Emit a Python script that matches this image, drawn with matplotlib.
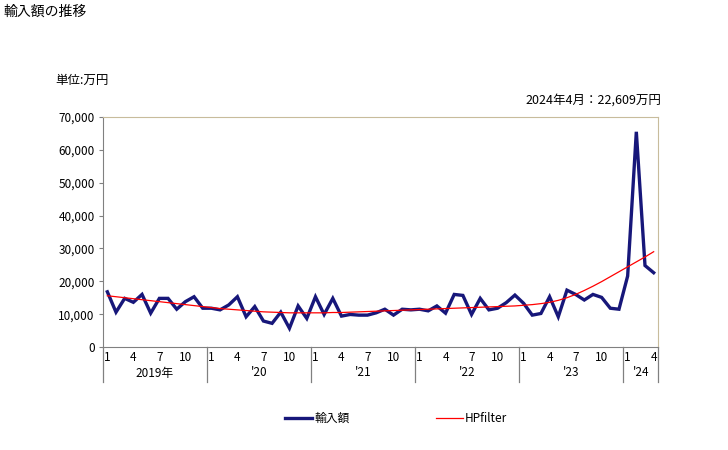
import matplotlib
matplotlib.use("Agg")
import matplotlib.pyplot as plt
from matplotlib.ticker import FuncFormatter

plt.rcParams['font.family'] = ['Noto Sans CJK JP', 'DejaVu Sans']

# monthly import values (万円), Jan 2019 .. Apr 2024
years = ["2019年", "'20", "'21", "'22", "'23", "'24"]
month_ticks = [1, 4, 7, 10]
imports = [
    16800, 10600, 14800, 13600, 16000, 10300, 14800, 14800, 11500, 13800, 15300, 11800,
    11800, 11300, 12800, 15300, 9200, 12300, 7900, 7200, 10600, 5700, 12500, 8700,
    15300, 9900, 14800, 9400, 9900, 9700, 9700, 10400, 11500, 9700, 11500, 11300,
    11500, 11000, 12500, 10300, 16000, 15700, 9900, 14800, 11300, 11800, 13500, 15800,
    13300, 9700, 10200, 15300, 9200, 17300, 16000, 14300, 16000, 15100, 11800, 11500,
    21600, 65500, 24800, 22609,
]
hp_filter = [
    15600, 15300, 15000, 14700, 14400, 14100, 13800, 13500, 13200, 12900, 12600, 12300,
    12000, 11700, 11500, 11300, 11100, 10900, 10700, 10600, 10500, 10400, 10400, 10400,
    10400, 10400, 10500, 10500, 10600, 10700, 10800, 10900, 11000, 11100, 11200, 11300,
    11400, 11500, 11600, 11700, 11800, 11900, 12000, 12100, 12200, 12300, 12400, 12500,
    12700, 12900, 13200, 13600, 14200, 15000, 16000, 17200, 18500, 19900, 21400, 22900,
    24400, 25900, 27400, 29000,
]

n = len(imports)
x = list(range(n))

fig = plt.figure(figsize=(7.28, 4.5), dpi=100)
ax = fig.add_axes([103 / 728, 1 - 347 / 450, 555 / 728, 230 / 450])

ax.plot(x, imports, color='#17177a', linewidth=2.4, label='輸入額', solid_joinstyle='miter')
ax.plot(x, hp_filter, color='#ff0000', linewidth=0.9, label='HPfilter')

ax.set_xlim(-0.5, n - 0.5)
ax.set_ylim(0, 70000)
ax.set_yticks(range(0, 70001, 10000))
ax.yaxis.set_major_formatter(FuncFormatter(lambda v, p: f"{int(v):,}"))
ax.tick_params(axis='y', direction='out', length=3, width=0.8, color='#808080',
               labelsize=8.5, pad=3)

# month labels
pos, labs = [], []
for i in range(n):
    m = i % 12 + 1
    if m in month_ticks:
        pos.append(i)
        labs.append(str(m))
ax.set_xticks(pos)
ax.set_xticklabels(labs)
ax.tick_params(axis='x', length=0, labelsize=8.5, pad=3)

for s in ['top', 'right']:
    ax.spines[s].set_color('#c8bc9c')
for s in ['left', 'bottom']:
    ax.spines[s].set_color('#808080')
ax.spines['left'].set_bounds(0, 70000)

# year separators and labels under the axis
trans = ax.get_xaxis_transform()
low = -35 / 230
ax.plot([-0.5, -0.5], [low, 0], transform=trans, color='#808080', lw=0.9, clip_on=False)
for k, yl in enumerate(years):
    start = k * 12 - 0.5
    end = min(start + 12, n - 0.5)
    ax.plot([end, end], [low, 0], transform=trans, color='#808080', lw=0.9, clip_on=False)
    ax.text((start + end) / 2, -26 / 230, yl, transform=trans, ha='center', va='center',
            fontsize=8.5)

fig.text(4 / 728, 1 - 12 / 450, '輸入額の推移', fontsize=10, va='center', ha='left')
fig.text(55 / 728, 1 - 80 / 450, '単位:万円', fontsize=9, va='center', ha='left')
fig.text(661 / 728, 1 - 100 / 450, '2024年4月：22,609万円', fontsize=9, va='center', ha='right')

ax.legend(loc='center', bbox_to_anchor=(0.528, -0.31), ncol=2, frameon=False, fontsize=8.5,
          handlelength=2.3, columnspacing=7.3, handletextpad=0.2)

fig.savefig('out.png', dpi=100)
